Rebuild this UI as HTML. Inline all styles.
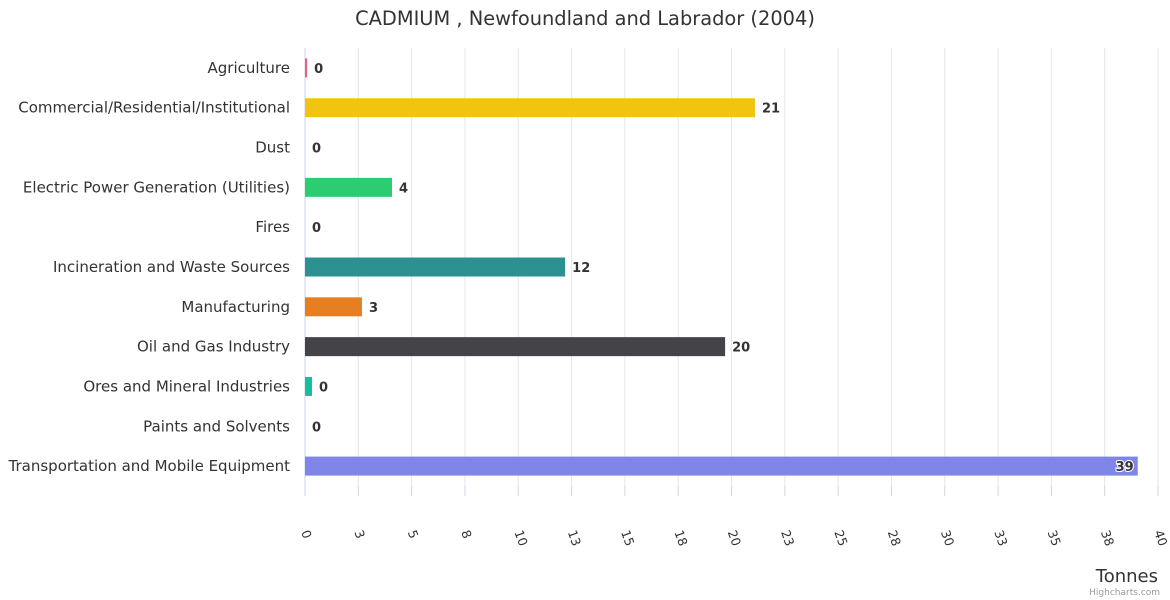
<!DOCTYPE html>
<html><head><meta charset="utf-8"><style>
body{margin:0;background:#fff;}
svg{display:block;font-family:"DejaVu Sans","Liberation Sans",sans-serif;}
</style></head><body>
<svg id="chart" width="1170" height="600">
<text x="585" y="25" text-anchor="middle" font-size="19.4" fill="#333">CADMIUM , Newfoundland and Labrador (2004)</text>
<g id="grid"></g>
<g id="bars"></g>
<g id="ylabels"></g>
<g id="xlabels"></g>
<text x="1158" y="582" text-anchor="end" font-size="18" fill="#333">Tonnes</text>
<text x="1160" y="595" text-anchor="end" font-size="9" fill="#999">Highcharts.com</text>
</svg>
<script>
const categories=["Agriculture","Commercial/Residential/Institutional","Dust","Electric Power Generation (Utilities)","Fires","Incineration and Waste Sources","Manufacturing","Oil and Gas Industry","Ores and Mineral Industries","Paints and Solvents","Transportation and Mobile Equipment"];
const values=[0.1,21.1,0,4.08,0,12.2,2.67,19.7,0.33,0,39.05];
const valueLabels=["0","21","0","4","0","12","3","20","0","0","39"];
const colors=["#f15c80","#f1c40f","#2ecc71","#2ecc71","#e74c3c","#2c9090","#e67e22","#434348","#1abc9c","#8085e9","#8085e9"];
const tickValues=[0,2.5,5,7.5,10,12.5,15,17.5,20,22.5,25,27.5,30,32.5,35,37.5,40];
const tickLabels=["0","3","5","8","10","13","15","18","20","23","25","28","30","33","35","38","40"];
const NS="http://www.w3.org/2000/svg";
const x0=305,x1=1158,yTop=48,yBot=486;
const xs=v=>x0+(v/40)*(x1-x0);
const band=(yBot-yTop)/categories.length;
const yc=i=>yTop+band*(i+0.5);
function mk(t,a,p){const e=document.createElementNS(NS,t);for(const k in a)e.setAttribute(k,a[k]);document.getElementById(p).appendChild(e);return e;}
tickValues.forEach((v,i)=>{
 const g=mk("line",{x1:xs(v),x2:xs(v),y1:yTop,y2:yBot,stroke:i==0?"#ccd6eb":"#e6e6e6"},"grid");
 
 
 const t=mk("line",{x1:xs(v),x2:xs(v),y1:yBot,y2:yBot+10,stroke:"#ccd6eb"},"grid");
 
 
 const l=mk("text",{x:xs(v)-4,y:532,"font-size":12.5,fill:"#333",transform:`rotate(70 ${xs(v)-4} 532)`},"xlabels");
 l.textContent=tickLabels[i];
 
 
});
categories.forEach((c,i)=>{
 const y=yc(i);
 const lab=mk("text",{x:290,y:y+5,"text-anchor":"end","font-size":15,fill:"#333"},"ylabels");
 lab.textContent=c;
 
 
 const w=Math.max(xs(values[i])-x0,values[i]>0?2:0);
 const r=mk("rect",{x:x0,y:y-9.5,width:w,height:19,fill:colors[i]},"bars");
 
 
 const inside=xs(values[i])>1100;
 const vl=mk("text",{x:inside?xs(values[i])-4:x0+w+7,y:y+5,"text-anchor":inside?"end":"start","font-size":13,"font-weight":"bold",fill:"#333",stroke:inside?"#fff":"none","stroke-width":inside?2:0,"paint-order":"stroke"},"bars");
 vl.textContent=valueLabels[i];
 
 
});
</script>
</body></html>
